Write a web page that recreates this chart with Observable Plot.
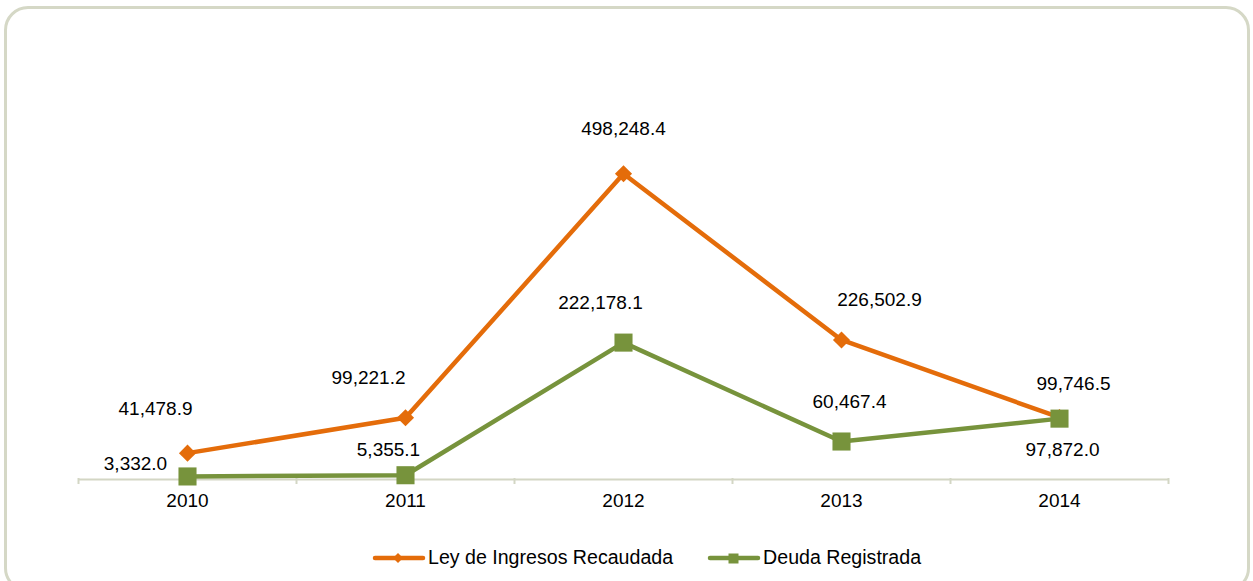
<!DOCTYPE html>
<html>
<head>
<meta charset="utf-8">
<script src="https://cdn.jsdelivr.net/npm/d3@7"></script>
<script src="https://cdn.jsdelivr.net/npm/@observablehq/plot@0.6"></script>
<style>
  html, body { margin: 0; padding: 0; background: #fff; }
  #wrap { position: relative; width: 1253px; height: 581px; overflow: hidden; font-family: "Liberation Sans", Arial, sans-serif; }
  #frame { position: absolute; left: 4px; top: 6px; width: 1246px; height: 586px; box-sizing: border-box;
           border: 3px solid #d5d8c6; border-radius: 24px; }
  #chart { position: absolute; left: 0; top: 0; }
  #legend { position: absolute; left: 372px; top: 546px; display: flex; align-items: center; font-size: 19.6px; color: #000; }
  #legend .item { display: flex; align-items: center; }
  #legend svg { display: block; }
</style>
</head>
<body>
<div id="wrap">
  <div id="frame"></div>
  <div id="chart"></div>
  <div id="legend"></div>
</div>
<script>
// ---- data ----
const years = ["2010", "2011", "2012", "2013", "2014"];
const leyIngresos = [41478.9, 99221.2, 498248.4, 226502.9, 99746.5];
const deudaRegistrada = [3332.0, 5355.1, 222178.1, 60467.4, 97872.0];
const seriesNames = ["Ley de Ingresos Recaudada", "Deuda Registrada"];

// ---- styles ----
const orange = "#E46C0A";
const green = "#77933C";
// manual label offsets (px) relative to each point, as placed in the original
const leyLabelOffsets = [[-32, -44], [-37, -40], [0, -45], [38, -40], [14, -34]];
const deudaLabelOffsets = [[-52, -13], [-17, -25], [-23, -40], [8, -40], [3, 31]];

const W = 1253, H = 530;
const mL = 78, mR = 85, mT = 111, mB = 52;
const yMax = 600000;
const step = (W - mL - mR) / years.length;
const pxPerUnit = (H - mT - mB) / yMax;

const ley = years.map((y, i) => ({year: y, value: leyIngresos[i]}));
const deuda = years.map((y, i) => ({year: y, value: deudaRegistrada[i]}));
const fmt = d3.format(",.1f");

const labelMarks = (data, offs) => data.map((d, i) =>
  Plot.text([d], {x: "year", y: "value", text: d => fmt(d.value),
    dx: offs[i][0], dy: offs[i][1], fontSize: 19, fill: "#000"}));

const chart = Plot.plot({
  width: W, height: H,
  marginLeft: mL, marginRight: mR, marginTop: mT, marginBottom: mB,
  style: {fontFamily: '"Liberation Sans", Arial, sans-serif', background: "transparent", overflow: "visible"},
  x: {type: "point", domain: years, padding: 0.5},
  y: {domain: [0, yMax], axis: null},
  marks: [
    Plot.ruleY([0], {stroke: "#d3d6c4", strokeWidth: 2, dy: 1}),
    Plot.ruleX(years, {x: d => d, dx: -step / 2, y1: 0, y2: -6 / pxPerUnit, stroke: "#d3d6c4", strokeWidth: 2}),
    Plot.ruleX([years[years.length - 1]], {x: d => d, dx: step / 2, y1: 0, y2: -6 / pxPerUnit, stroke: "#d3d6c4", strokeWidth: 2}),
    Plot.axisX({tickSize: 0, tickPadding: 15, fontSize: 19, fill: "#000", label: null}),
    Plot.line(ley, {x: "year", y: "value", stroke: orange, strokeWidth: 4.5, strokeLinejoin: "round"}),
    Plot.dot(ley, {x: "year", y: "value", symbol: "diamond2", r: 7.7, fill: orange}),
    Plot.line(deuda, {x: "year", y: "value", stroke: green, strokeWidth: 4.5, strokeLinejoin: "round"}),
    Plot.dot(deuda, {x: "year", y: "value", symbol: "square", r: 10.2, fill: green}),
    ...labelMarks(ley, leyLabelOffsets),
    ...labelMarks(deuda, deudaLabelOffsets)
  ]
});
document.getElementById("chart").appendChild(chart);

// ---- legend ----
const legend = document.getElementById("legend");
const swatch = (color, shape) => {
  const ns = "http://www.w3.org/2000/svg";
  const svg = document.createElementNS(ns, "svg");
  svg.setAttribute("width", 54); svg.setAttribute("height", 14);
  const ln = document.createElementNS(ns, "line");
  ln.setAttribute("x1", 3); ln.setAttribute("x2", 51); ln.setAttribute("y1", 7); ln.setAttribute("y2", 7);
  ln.setAttribute("stroke", color); ln.setAttribute("stroke-width", 4.5); ln.setAttribute("stroke-linecap", "round");
  svg.appendChild(ln);
  const p = document.createElementNS(ns, "path");
  p.setAttribute("d", shape === "diamond" ? "M26,2L31,7L26,12L21,7Z" : "M21.5,2.5H31.5V12.5H21.5Z");
  p.setAttribute("fill", color);
  svg.appendChild(p);
  return svg;
};
[[seriesNames[0], orange, "diamond"], [seriesNames[1], green, "square"]].forEach(([name, color, shape], i) => {
  const item = document.createElement("div");
  item.className = "item";
  if (i > 0) item.style.marginLeft = "34px";
  item.appendChild(swatch(color, shape));
  const t = document.createElement("span");
  t.textContent = name;
  t.style.marginLeft = "2px";
  item.appendChild(t);
  legend.appendChild(item);
});
</script>
</body>
</html>
